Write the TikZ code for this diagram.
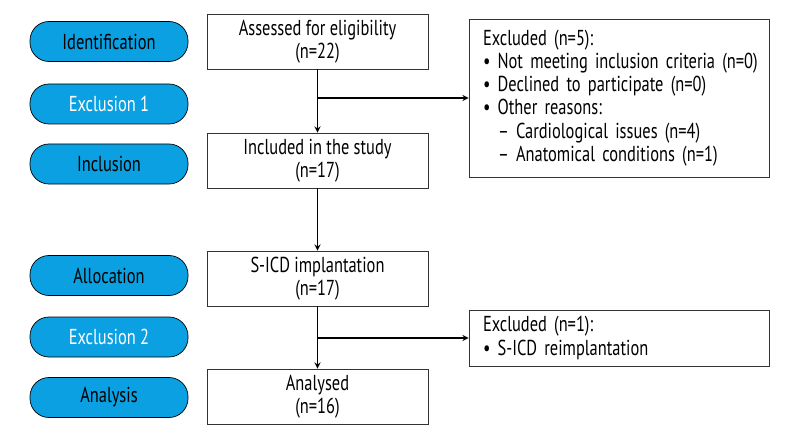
\documentclass[tikz,border=0pt]{standalone}
\usepackage{fontspec}
\setmainfont[FakeStretch=0.76]{PT Sans}
\usepackage{tikz}
\usetikzlibrary{shapes.geometric, arrows}
\definecolor{stageblue}{RGB}{10,160,225}
\newcommand{\boxfont}{\fontsize{12.3}{13.2}\selectfont}
\tikzstyle{stage} = [rectangle, rounded corners=.38cm, minimum width=3.16cm, minimum height=.8cm, text centered, draw=black, fill=stageblue, font=\boxfont]
\tikzstyle{process} = [rectangle, minimum width=4.42cm, minimum height=1.1cm, align=center, draw=black!80, fill=white, font=\boxfont]
\tikzstyle{excluded} = [rectangle, text width=5.44cm, inner xsep=.28cm, align=left, draw=black!80, fill=white, font=\boxfont]
\tikzstyle{arrow} = [semithick,->,>=stealth]

\begin{document}
\begin{tikzpicture}[node distance=1.2cm]
\useasboundingbox (0,0) rectangle (16,8.8);

\node (assessed) [process] at (6.35,7.97) {Assessed for eligibility\\(n=22)};
\node (included) [process, below of=assessed, yshift=-1.18cm] {Included in the study\\(n=17)};
\draw [arrow] (assessed) -- (included);
\node (implant) [process, below of=included, yshift=-1.16cm] {S-ICD implantation\\(n=17)};
\draw [arrow] (included) -- (implant);
\node (analysed) [process, below of=implant, yshift=-1.16cm] {Analysed\\(n=16)};
\draw [arrow] (implant) -- (analysed);

\coordinate (split1) at (6.35,6.84);
\node (excl1) [excluded, minimum height=3.16cm, right of=split1, xshift=4.83cm] {Excluded (n=5):\\
\mbox{\textbullet\ Not meeting inclusion criteria (n=0)}\\
\textbullet\ Declined to participate (n=0)\\
\textbullet\ Other reasons:\\
\hspace*{.3cm}-- Cardiological issues (n=4)\\
\hspace*{.3cm}-- Anatomical conditions (n=1)};
\draw [arrow] (split1) -- (excl1);

\coordinate (split2) at (6.35,2.04);
\node (excl2) [excluded, minimum height=1.12cm, right of=split2, xshift=4.83cm] {Excluded (n=1):\\
\textbullet\ S-ICD reimplantation};
\draw [arrow] (split2) -- (excl2);

\node (identification) [stage, left of=assessed, xshift=-2.97cm] {Identification};
\node (exclusionA) [stage, below of=identification, yshift=-.05cm, text=white] {Exclusion 1};
\node (inclusion) [stage, below of=exclusionA] {Inclusion};
\node (allocation) [stage, below of=inclusion, yshift=-1.03cm] {Allocation};
\node (exclusionB) [stage, below of=allocation, yshift=-.03cm, text=white] {Exclusion 2};
\node (analysis) [stage, below of=exclusionB, yshift=-.01cm] {Analysis};

\end{tikzpicture}
\end{document}
